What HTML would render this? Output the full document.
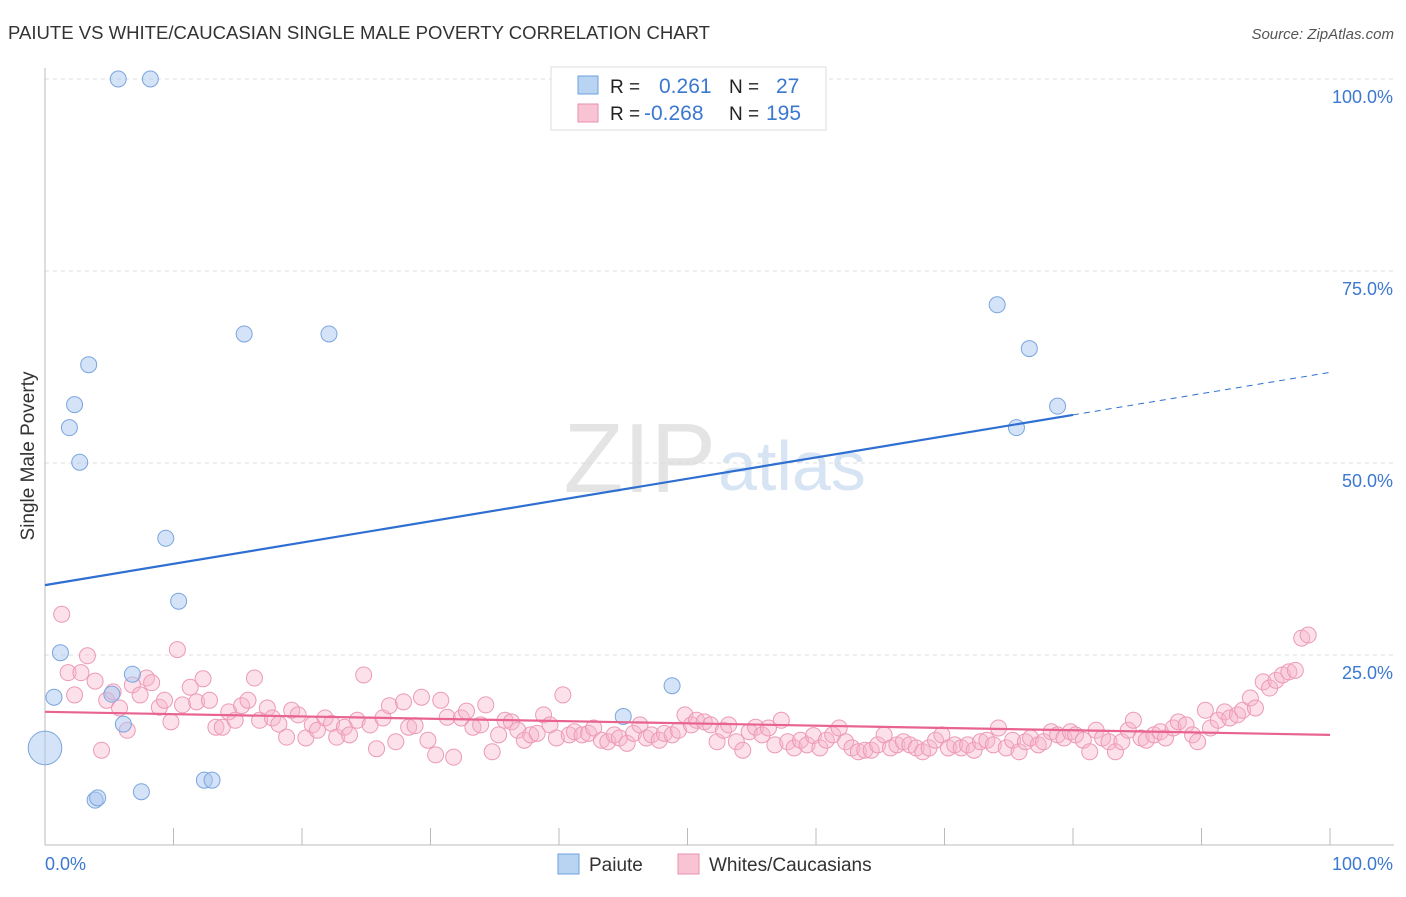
<!DOCTYPE html>
<html><head><meta charset="utf-8"><style>
body{margin:0;background:#fff;font-family:"Liberation Sans",sans-serif;}
svg text{font-family:"Liberation Sans",sans-serif;}
</style></head><body>
<svg id="chart" width="1406" height="892" viewBox="0 0 1406 892">
<text x="8" y="39" font-size="18" fill="#333" textLength="702" lengthAdjust="spacingAndGlyphs">PAIUTE VS WHITE/CAUCASIAN SINGLE MALE POVERTY CORRELATION CHART</text>
<text x="1394" y="39" font-size="15" fill="#555" font-style="italic" text-anchor="end">Source: ZipAtlas.com</text>
<text x="716" y="492" font-size="98" fill="#e4e4e4" font-family="Liberation Serif" text-anchor="end">ZIP</text>
<text x="718" y="490" font-size="70" fill="#d6e4f3">atlas</text>
<g id="grid"></g>
<g id="axes"></g>
<g id="pinkpts"></g>
<g id="bluepts"></g>
<g id="lines"></g>
<text x="34" y="456" font-size="19" fill="#333" text-anchor="middle" transform="rotate(-90 34 456)">Single Male Poverty</text>
<g>
<rect x="551" y="67" width="275" height="63" fill="#fff" stroke="#ddd"/>
<rect x="578" y="76" width="20" height="18" fill="#b9d3f2" stroke="#6fa0dc"/>
<rect x="578" y="104" width="20" height="18" fill="#f8c4d4" stroke="#ea8fae"/>
<text x="610" y="93" font-size="19" fill="#222">R =</text>
<text x="659" y="93" font-size="21" fill="#3b78d0">0.261</text>
<text x="729" y="93" font-size="19" fill="#222">N =</text>
<text x="776" y="93" font-size="21" fill="#3b78d0">27</text>
<text x="610" y="120" font-size="19" fill="#222">R =</text>
<text x="644" y="120" font-size="21" fill="#3b78d0">-0.268</text>
<text x="729" y="120" font-size="19" fill="#222">N =</text>
<text x="766" y="120" font-size="21" fill="#3b78d0">195</text>
</g>
<g>
<rect x="558" y="854" width="21" height="20" fill="#b9d3f2" stroke="#6fa0dc"/>
<text x="589" y="871" font-size="19" fill="#333">Paiute</text>
<rect x="678" y="854" width="21" height="20" fill="#f8c4d4" stroke="#ea8fae"/>
<text x="709" y="871" font-size="19" fill="#333">Whites/Caucasians</text>
</g>
</svg>
<script>
const yTicks=[25,50,75,100];
const yTickLabels=["25.0%","50.0%","75.0%","100.0%"];
const xEndLabels=["0.0%","100.0%"];
const blueX=[5.7,8.2,15.5,22.1,3.4,2.3,1.9,2.7,9.4,10.4,1.2,0.7,5.2,6.8,6.1,0,3.9,4.1,7.5,12.4,13.0,45.0,48.8,74.1,76.6,75.6,78.8];
const blueY=[100,100,66.8,66.8,62.8,57.6,54.6,50.1,40.2,32.0,25.3,19.5,19.9,22.5,16.0,12.9,6.1,6.4,7.2,8.7,8.7,17.0,21.0,70.6,64.9,54.6,57.4];
const blueSize=[1,1,1,1,1,1,1,1,1,1,1,1,1,1,1,2.1,1,1,1,1,1,1,1,1,1,1,1];
const pinkX=[1.3,1.8,2.3,2.8,3.3,3.9,4.4,4.8,5.3,5.8,6.4,6.8,7.4,7.9,8.3,8.9,9.3,9.8,10.3,10.7,11.3,11.8,12.3,12.8,13.3,13.8,14.3,14.8,15.3,15.8,16.3,16.7,17.3,17.7,18.2,18.8,19.2,19.7,20.3,20.8,21.2,21.8,22.3,22.7,23.3,23.7,24.3,24.8,25.3,25.8,26.3,26.8,27.3,27.9,28.3,28.8,29.3,29.8,30.4,30.8,31.3,31.8,32.4,32.8,33.3,33.9,34.3,34.8,35.3,35.8,36.3,36.8,37.3,37.8,38.3,38.8,39.3,39.8,40.3,40.8,41.2,41.8,42.3,42.7,43.3,43.8,44.3,44.7,45.3,45.8,46.3,46.8,47.2,47.8,48.2,48.8,49.3,49.8,50.3,50.7,51.3,51.8,52.3,52.8,53.2,53.8,54.3,54.8,55.3,55.8,56.3,56.8,57.3,57.8,58.3,58.8,59.3,59.8,60.3,60.8,61.3,61.8,62.3,62.8,63.3,63.8,64.3,64.8,65.3,65.8,66.3,66.8,67.3,67.8,68.3,68.8,69.3,69.8,70.3,70.8,71.3,71.8,72.3,72.8,73.3,73.8,74.2,74.8,75.3,75.8,76.3,76.7,77.3,77.7,78.3,78.8,79.3,79.8,80.2,80.8,81.3,81.8,82.3,82.8,83.3,83.8,84.3,84.7,85.3,85.7,86.3,86.8,87.2,87.8,88.2,88.8,89.3,89.7,90.3,90.7,91.3,91.8,92.2,92.8,93.2,93.8,94.2,94.8,95.3,95.8,96.3,96.8,97.3,97.8,98.3];
const pinkY=[30.3,22.7,19.8,22.7,24.9,21.6,12.6,19.1,20.2,18.1,15.2,21.1,19.8,22.0,21.4,18.2,19.1,16.3,25.7,18.5,20.8,18.9,21.9,19.1,15.6,15.6,17.6,16.5,18.4,19.1,22.0,16.5,18.1,16.8,16.0,14.3,17.8,17.2,14.2,15.9,15.2,16.8,16.1,14.3,15.6,14.6,16.5,22.4,15.9,12.8,16.8,18.4,13.7,18.9,15.6,15.8,19.5,13.9,12.0,19.1,16.9,11.7,16.8,17.7,15.6,15.9,18.5,12.4,14.6,16.5,16.3,15.2,13.9,14.6,14.8,17.2,15.9,14.2,19.8,14.6,15.0,14.6,14.8,15.5,13.9,13.7,14.6,14.2,13.5,14.8,15.9,14.2,14.6,13.9,14.8,14.6,15.2,17.2,15.9,16.5,16.3,15.9,13.7,15.2,15.9,13.7,12.6,15.0,15.6,14.6,15.5,13.3,16.5,13.7,12.9,13.9,13.3,14.5,12.9,13.9,14.6,15.5,13.7,12.9,12.4,12.6,12.6,13.3,14.6,12.9,13.3,13.7,13.3,12.9,12.4,12.9,13.9,14.6,12.9,13.3,12.9,13.3,12.6,13.7,13.9,13.3,15.5,12.9,13.9,12.4,13.7,14.2,13.3,13.7,15.0,14.6,14.2,15.0,14.6,13.9,12.4,15.2,14.2,13.7,12.4,13.7,15.2,16.5,14.2,13.9,14.6,15.0,14.2,15.5,16.3,15.9,14.6,13.7,17.8,15.5,16.5,17.6,16.8,17.2,17.8,19.4,18.1,21.5,20.7,21.7,22.4,22.8,23.0,27.2,27.6];
const blueTrend=[34.1,61.8];
const pinkTrend=[17.6,14.6];
const X0=45,X1=1330,Y0=847,Y100=79;
const sx=v=>X0+(X1-X0)*v/100;
const sy=v=>Y0+(Y100-Y0)*v/100;
const NS='http://www.w3.org/2000/svg';
function mk(tag,attrs,parent){const e=document.createElementNS(NS,tag);for(const k in attrs)e.setAttribute(k,attrs[k]);parent.appendChild(e);return e;}
const grid=document.getElementById('grid'),axes=document.getElementById('axes');
yTicks.forEach((t,i)=>{
  const g=mk('line',{x1:X0,x2:1394,y1:sy(t),y2:sy(t),stroke:'#ddd','stroke-dasharray':'4,4'},grid);
  
  
  const l=mk('text',{x:1393,y:sy(t)+24,'font-size':18,fill:'#3b78d0','text-anchor':'end'},axes);
  l.textContent=yTickLabels[i];
  
  
});
const ax=mk('line',{x1:X0,x2:X0,y1:68,y2:845,stroke:'#bbb'},axes);


const bx=mk('line',{x1:X0,x2:1394,y1:845,y2:845,stroke:'#bbb'},axes);


for(let i=1;i<=10;i++){
  const t=mk('line',{x1:sx(i*10),x2:sx(i*10),y1:828,y2:845,stroke:'#bbb'},axes);
  
  
}
[[X0,'start',0],[1393,'end',1]].forEach(([x,a,i])=>{
  const l=mk('text',{x:x,y:870,'font-size':18,fill:'#3b78d0','text-anchor':a},axes);
  l.textContent=xEndLabels[i];
  
  
});
const pg=document.getElementById('pinkpts');
pinkX.forEach((x,i)=>{
  const c=mk('circle',{cx:sx(x),cy:sy(pinkY[i]),r:8,fill:'rgba(248,180,202,0.4)',stroke:'#ec9ab6','stroke-width':1},pg);
  
  
});
const bg=document.getElementById('bluepts');
blueX.forEach((x,i)=>{
  const c=mk('circle',{cx:sx(x),cy:sy(blueY[i]),r:8*blueSize[i],fill:'rgba(170,200,240,0.5)',stroke:'#7aa6de','stroke-width':1},bg);
  
  
});
const lg=document.getElementById('lines');
const bAt=p=>blueTrend[0]+(blueTrend[1]-blueTrend[0])*p/100;
const l1=mk('line',{x1:sx(0),y1:sy(bAt(0)),x2:sx(80),y2:sy(bAt(80)),stroke:'#2f6fd1','stroke-width':2.2},lg);


const l2=mk('line',{x1:sx(80),y1:sy(bAt(80)),x2:sx(100),y2:sy(bAt(100)),stroke:'#2f6fd1','stroke-width':1,'stroke-dasharray':'6,5'},lg);


const l3=mk('line',{x1:sx(0),y1:sy(pinkTrend[0]),x2:sx(100),y2:sy(pinkTrend[1]),stroke:'#e8638f','stroke-width':2.2},lg);


</script>
</body></html>
